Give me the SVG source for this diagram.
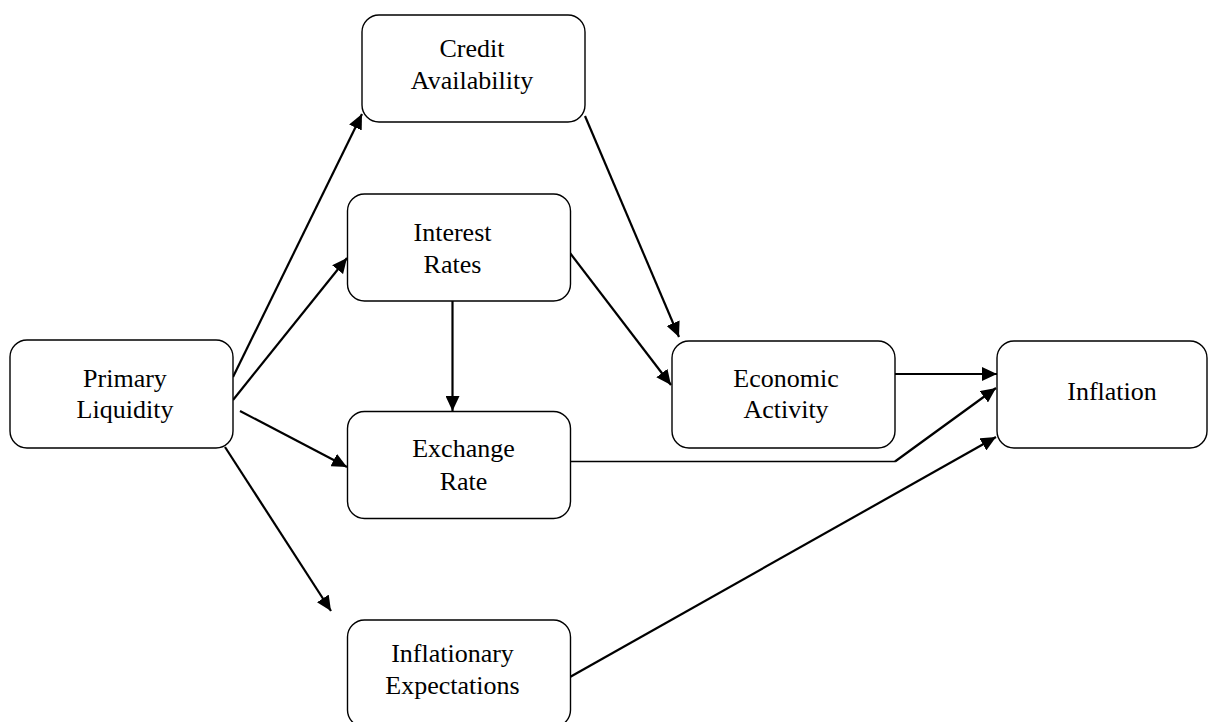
<svg xmlns="http://www.w3.org/2000/svg" width="1209" height="722" viewBox="0 0 1209 722">
<defs>
<marker id="ah" markerUnits="userSpaceOnUse" markerWidth="16" markerHeight="14" refX="15" refY="7" orient="auto">
<path d="M0,0 L15,7 L0,14 Z" fill="#000"/>
</marker>
<style>
.box{fill:#fff;stroke:#000;stroke-width:1.4}
.lbl{font-family:"Liberation Serif","Times New Roman",serif;font-size:26px;fill:#000;text-anchor:middle}
.c{fill:none;stroke:#000;stroke-width:2.2}
.a{marker-end:url(#ah)}
</style>
</defs>
<rect width="1209" height="722" fill="#fff"/>
<g id="connectors">
<line class="c a" x1="233" y1="377" x2="362" y2="114"/>
<line class="c a" x1="233" y1="400" x2="347" y2="258"/>
<line class="c a" x1="240" y1="411" x2="347" y2="467"/>
<line class="c a" x1="225" y1="447" x2="331" y2="611"/>
<line class="c a" x1="585" y1="116" x2="679" y2="337"/>
<line class="c a" x1="570" y1="253" x2="671" y2="385"/>
<line class="c a" x1="452.5" y1="301" x2="452.5" y2="411"/>
<line class="c a" x1="895" y1="374" x2="997" y2="374"/>
<line fill="none" stroke="#000" stroke-width="1.4" x1="570" y1="461.5" x2="895" y2="461.5"/>
<line class="c a" x1="895" y1="461.5" x2="996" y2="388"/>
<line class="c a" x1="570" y1="677" x2="996" y2="437"/>
</g>
<g id="node-primary">
<rect class="box" x="10" y="340" width="223" height="108" rx="17"/>
<text class="lbl" x="125" y="387">Primary</text>
<text class="lbl" x="125" y="418">Liquidity</text>
</g>
<g id="node-credit">
<rect class="box" x="362" y="15" width="223" height="107" rx="17"/>
<text class="lbl" x="472" y="57">Credit</text>
<text class="lbl" x="472" y="89">Availability</text>
</g>
<g id="node-interest">
<rect class="box" x="347.5" y="194" width="223" height="107" rx="17"/>
<text class="lbl" x="452.5" y="241">Interest</text>
<text class="lbl" x="452.5" y="273">Rates</text>
</g>
<g id="node-exchange">
<rect class="box" x="347.5" y="411.5" width="223" height="107" rx="17"/>
<text class="lbl" x="463.5" y="457">Exchange</text>
<text class="lbl" x="463.5" y="490">Rate</text>
</g>
<g id="node-economic">
<rect class="box" x="672" y="341" width="223" height="107" rx="17"/>
<text class="lbl" x="786" y="387">Economic</text>
<text class="lbl" x="786" y="418">Activity</text>
</g>
<g id="node-inflation">
<rect class="box" x="997" y="341" width="210" height="107" rx="17"/>
<text class="lbl" x="1112" y="400">Inflation</text>
</g>
<g id="node-expectations">
<rect class="box" x="347.5" y="620" width="223" height="107" rx="17"/>
<text class="lbl" x="452.5" y="662">Inflationary</text>
<text class="lbl" x="452.5" y="694">Expectations</text>
</g>
</svg>
